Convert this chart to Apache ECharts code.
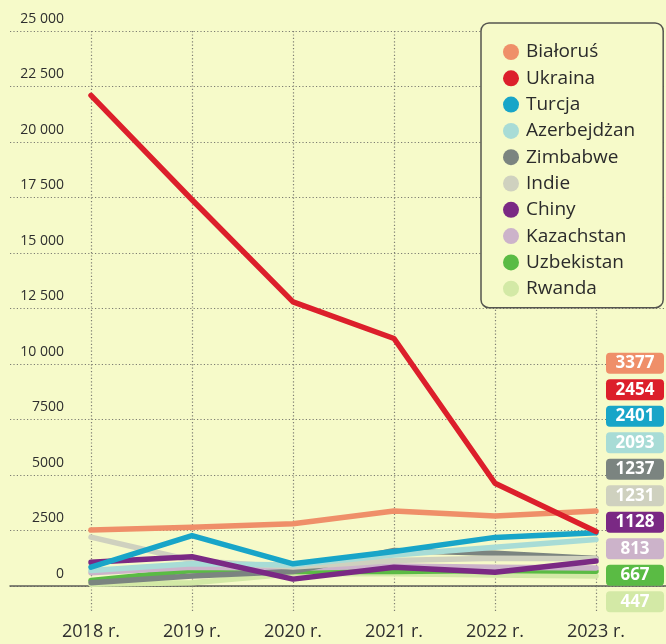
<!DOCTYPE html>
<html>
<head>
<meta charset="utf-8">
<title>Cudzoziemcy</title>
<script src="https://cdn.jsdelivr.net/npm/echarts@6/dist/echarts.min.js"></script>
<style>
	html, body { margin: 0; padding: 0; background: #f6fac9; }
	#chart { width: 666px; height: 644px; }
</style>
</head>
<body>
<div id="chart"></div>
<script>
// dane
var years = ['2018', '2019', '2020', '2021', '2022', '2023'];
var names = ['Białoruś', 'Ukraina', 'Turcja', 'Azerbejdżan', 'Zimbabwe', 'Indie', 'Chiny', 'Kazachstan', 'Uzbekistan', 'Rwanda'];
var colors = ['#ef8f69', '#dc1f2b', '#18a5c8', '#a8dcd6', '#7b8480', '#cfd1bf', '#7a2984', '#ccb3ca', '#5abb44', '#d3e9a6'];

var bialorus = [2520, 2650, 2800, 3380, 3150, 3377];
var ukraina = [22100, 17400, 12800, 11150, 4630, 2454];
var turcja = [850, 2270, 1000, 1550, 2190, 2401];
var azerbejdzan = [700, 1000, 950, 1400, 1750, 2093];
var zimbabwe = [150, 450, 650, 1600, 1480, 1237];
var indie = [2200, 1150, 850, 1150, 1250, 1231];
var chiny = [1070, 1320, 310, 840, 620, 1128];
var kazachstan = [600, 850, 800, 900, 850, 813];
var uzbekistan = [250, 700, 650, 650, 700, 667];
var rwanda = [80, 150, 550, 550, 500, 447];

var values = [bialorus, ukraina, turcja, azerbejdzan, zimbabwe, indie, chiny, kazachstan, uzbekistan, rwanda];
// kolejnosc rysowania (czerwona linia na wierzchu)
var drawOrder = [9, 8, 7, 4, 5, 3, 6, 2, 0, 1];

var dotted = { color: '#7d7d72', width: 1.2, type: [1.2, 2.2] };
var font = '"Open Sans", sans-serif';

function fmtY(v){
	if(v >= 10000){
		var s = String(v);
		return s.slice(0, s.length - 3) + ' ' + s.slice(s.length - 3);
	}
	return String(v);
}

var myChart = echarts.init(document.getElementById('chart'), null, { renderer: 'canvas' });

var option = {
	backgroundColor: '#f6fac9',
	animation: false,
	grid: [
		{ left: 91, right: 70, top: 31, bottom: 58 },
		{ left: 10, right: 0, top: 31, bottom: 58 }
	],
	xAxis: [
		{
			type: 'category',
			gridIndex: 0,
			data: years,
			boundaryGap: false,
			axisLine: { show: false },
			axisTick: { show: true, alignWithLabel: true, length: 26, lineStyle: dotted },
			splitLine: { show: true, lineStyle: dotted },
			axisLabel: {
				formatter: '{value} r.',
				margin: 36,
				fontFamily: font,
				fontSize: 18,
				lineHeight: 20,
				color: '#2e2e2e'
			}
		},
		{
			type: 'value',
			gridIndex: 1,
			min: 0,
			max: 1,
			axisLabel: { show: false },
			axisTick: { show: false },
			splitLine: { show: false },
			axisLine: { show: true, lineStyle: { color: '#5e5e58', width: 1.5 } }
		}
	],
	yAxis: [
		{
			type: 'value',
			gridIndex: 0,
			min: 0,
			max: 25000,
			interval: 2500,
			show: false
		},
		{
			type: 'value',
			gridIndex: 1,
			min: 0,
			max: 25000,
			interval: 2500,
			offset: -54,
			axisLine: { show: false },
			axisTick: { show: false },
			splitLine: { show: true, lineStyle: dotted },
			axisLabel: {
				margin: 0,
				formatter: fmtY,
				verticalAlign: 'bottom',
				lineHeight: 14,
				padding: [0, 0, 5, 0],
				fontFamily: font,
				fontSize: 14,
				color: '#2e2e2e'
			}
		}
	],
	legend: {
		orient: 'vertical',
		left: 481,
		top: 23,
		padding: [19, 28, 9, 22],
		itemGap: 6.3,
		itemWidth: 16,
		itemHeight: 16,
		icon: 'circle',
		backgroundColor: '#f6fac9',
		borderColor: '#55554f',
		borderWidth: 1.5,
		borderRadius: 8,
		data: names,
		textStyle: {
			fontFamily: font,
			fontSize: 19,
			lineHeight: 20,
			color: '#2b2b2b',
			padding: [0, 0, 0, 2]
		}
	},
	series: [],
	graphic: []
};

drawOrder.forEach(function(i){
	option.series.push({
		name: names[i],
		type: 'line',
		xAxisIndex: 0,
		yAxisIndex: 0,
		data: values[i],
		showSymbol: false,
		symbol: 'none',
		color: colors[i],
		lineStyle: { width: 5.5, color: colors[i], cap: 'round', join: 'round' },
		z: 3
	});
});

// etykiety z wartosciami za 2023 r.
names.forEach(function(name, i){
	var last = values[i][values[i].length - 1];
	var cy = 363.3 + i * 26.5;
	option.graphic.push({
		type: 'rect',
		left: 606,
		top: cy - 10.5,
		shape: { width: 58, height: 21, r: 4 },
		style: { fill: colors[i] },
		z: 10
	});
	option.graphic.push({
		type: 'text',
		x: 635,
		y: cy,
		style: {
			text: String(last),
			fill: '#ffffff',
			font: 'bold 17px "Open Sans", sans-serif',
			textAlign: 'center',
			textVerticalAlign: 'middle'
		},
		z: 11
	});
});

myChart.setOption(option);
</script>
</body>
</html>
